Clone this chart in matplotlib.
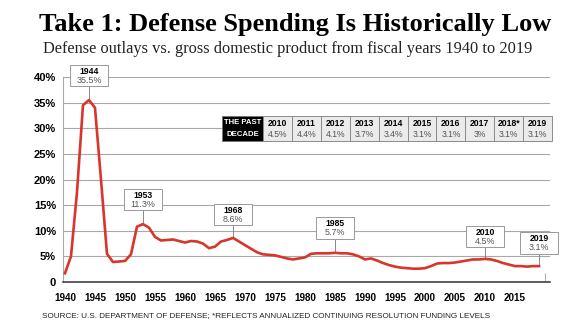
import matplotlib.pyplot as plt
from matplotlib.patches import Rectangle

years = list(range(1940, 2020))
outlays = [
    1.7, 5.0, 17.5, 34.5, 35.5, 34.0, 20.0, 5.5, 3.9, 4.0,
    4.1, 5.4, 10.8, 11.3, 10.6, 8.8, 8.1, 8.2, 8.3, 8.0,
    7.7, 8.0, 7.9, 7.5, 6.6, 6.9, 7.9, 8.2, 8.6, 7.9,
    7.2, 6.5, 5.8, 5.4, 5.3, 5.2, 4.9, 4.6, 4.4, 4.6,
    4.8, 5.5, 5.6, 5.6, 5.6, 5.7, 5.6, 5.6, 5.4, 5.0,
    4.4, 4.6, 4.2, 3.7, 3.3, 3.0, 2.8, 2.7, 2.6, 2.6,
    2.7, 3.1, 3.6, 3.7, 3.7, 3.8, 4.0, 4.2, 4.4, 4.4,
    4.5, 4.4, 4.1, 3.7, 3.4, 3.1, 3.1, 3.0, 3.1, 3.1,
]

callout_years = [1944, 1953, 1968, 1985, 2010, 2019]
callout_values = ['35.5%', '11.3%', '8.6%', '5.7%', '4.5%', '3.1%']

decade_years = ['2010', '2011', '2012', '2013', '2014', '2015', '2016', '2017', '2018*', '2019']
decade_values = ['4.5%', '4.4%', '4.1%', '3.7%', '3.4%', '3.1%', '3.1%', '3%', '3.1%', '3.1%']

x_labels = list(range(1940, 2020, 5))
y_ticks = [0, 5, 10, 15, 20, 25, 30, 35, 40]

W, H = 580, 326
SANS = ['Liberation Sans', 'DejaVu Sans']
SERIF = ['Liberation Serif', 'DejaVu Serif']
RED = '#d8352b'


def fx(x):
    return x / W


def fy(y):
    return 1 - y / H


fig = plt.figure(figsize=(W / 100, H / 100), dpi=100)
ax = fig.add_axes([fx(63), fy(282), fx(550 - 63), (282 - 77) / H])

ax.plot(years, outlays, color=RED, lw=1.9, solid_joinstyle='round', zorder=3)

ax.set_xlim(1939.67, 2020.83)
ax.set_ylim(0, 40)

ax.set_yticks(y_ticks)
ax.set_yticklabels([f'{v}%' if v else '0' for v in y_ticks],
                   fontsize=8, fontweight='bold', family=SANS)
ax.tick_params(axis='y', length=0, pad=5)
ax.grid(axis='y', color='#a8a8a8', lw=0.8)
ax.set_axisbelow(True)

ax.set_xticks(x_labels)
ax.set_xticklabels([str(v) for v in x_labels], fontsize=7.1, fontweight='bold', family=SANS)
ax.set_xticks(list(range(1945, 2021, 5)), minor=True)
ax.tick_params(axis='x', which='major', length=0, pad=8)
ax.tick_params(axis='x', which='minor', direction='in', length=6.5, width=0.7, color='#a8a8a8')

for s in ['top', 'right']:
    ax.spines[s].set_visible(False)
ax.spines['left'].set_color('#a8a8a8')
ax.spines['left'].set_linewidth(0.8)
ax.spines['bottom'].set_color('#333333')
ax.spines['bottom'].set_linewidth(1.1)

# callout boxes
box_bottom = [38.2, 14.0, 11.1, 8.4, 6.8, 5.5]
box_w, box_h = 6.3, 4.2
for yr, lab, b in zip(callout_years, callout_values, box_bottom):
    val = outlays[years.index(yr)]
    ax.plot([yr, yr], [val, b], color='#888888', lw=0.7, zorder=2, clip_on=False)
    ax.add_patch(Rectangle((yr - box_w / 2, b), box_w, box_h, facecolor='white',
                           edgecolor='#999999', lw=0.7, zorder=4, clip_on=False))
    ax.text(yr, b + box_h * 0.70, str(yr), ha='center', va='center', fontsize=6.2,
            fontweight='bold', family=SANS, zorder=5, clip_on=False)
    ax.text(yr, b + box_h * 0.28, lab, ha='center', va='center', fontsize=6.4,
            color='#555555', family=SANS, zorder=5, clip_on=False)

# past decade table
top, bot = 116, 141
fig.patches.append(Rectangle((fx(222), fy(bot)), fx(263 - 222), (bot - top) / H,
                             transform=fig.transFigure, facecolor='black',
                             edgecolor='#777777', lw=0.7, zorder=5))
fig.text(fx(242.5), fy(123), 'THE PAST', color='white', fontsize=5.6, fontweight='bold',
         ha='center', va='center', family=SANS, zorder=6)
fig.text(fx(242.5), fy(134), 'DECADE', color='white', fontsize=5.6, fontweight='bold',
         ha='center', va='center', family=SANS, zorder=6)
cw = (552 - 263) / len(decade_years)
for i, (yr, v) in enumerate(zip(decade_years, decade_values)):
    x0 = 263 + i * cw
    fig.patches.append(Rectangle((fx(x0), fy(bot)), fx(cw), (bot - top) / H,
                                 transform=fig.transFigure, facecolor='#ebebeb',
                                 edgecolor='#8a8a8a', lw=0.7, zorder=5))
    fig.text(fx(x0 + cw / 2), fy(123), yr, fontsize=6.2, fontweight='bold',
             ha='center', va='center', family=SANS, zorder=6)
    fig.text(fx(x0 + cw / 2), fy(134), v, fontsize=6.2, color='#555555',
             ha='center', va='center', family=SANS, zorder=6)

fig.text(fx(295), fy(31.5), 'Take 1: Defense Spending Is Historically Low',
         ha='center', va='baseline', fontsize=19, fontweight='bold', family=SERIF)
fig.text(fx(43), fy(53), 'Defense outlays vs. gross domestic product from fiscal years 1940 to 2019',
         ha='left', va='baseline', fontsize=11.8, family=SERIF, color='#222222')
fig.text(fx(42), fy(316),
         'SOURCE: U.S. DEPARTMENT OF DEFENSE; *REFLECTS ANNUALIZED CONTINUING RESOLUTION FUNDING LEVELS',
         ha='left', va='center', fontsize=5.9, family=SANS, color='#222222')

fig.savefig('out.png', dpi=100)
